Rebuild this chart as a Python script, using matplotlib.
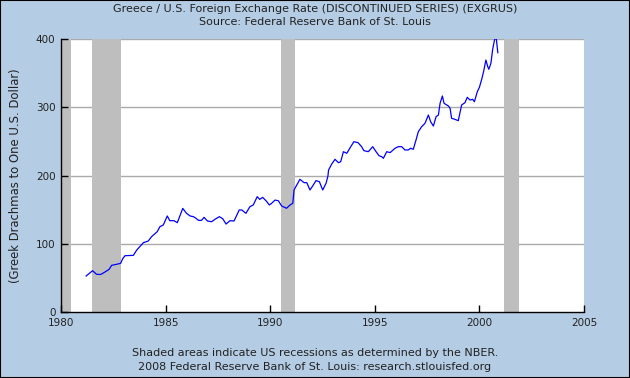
import matplotlib
matplotlib.use("Agg")
import matplotlib.pyplot as plt
from matplotlib.patches import Rectangle

# Greek drachmas per US dollar (decimal year, value)
years = [1981.20, 1981.51, 1981.70, 1981.90, 1982.10, 1982.30, 1982.42, 1982.66,
         1982.85, 1982.95, 1983.06, 1983.46, 1983.62, 1983.94, 1984.17, 1984.33,
         1984.60, 1984.73, 1984.89, 1985.08, 1985.20, 1985.40, 1985.56, 1985.70,
         1985.82, 1986.00, 1986.17, 1986.33, 1986.45, 1986.57, 1986.72, 1986.84,
         1987.00, 1987.20, 1987.36, 1987.57, 1987.73, 1987.89, 1988.08, 1988.27,
         1988.52, 1988.64, 1988.84, 1989.03, 1989.19, 1989.38, 1989.50, 1989.64,
         1989.80, 1989.96, 1990.07, 1990.23, 1990.39, 1990.55, 1990.78, 1990.95,
         1991.08, 1991.14, 1991.27, 1991.42, 1991.62, 1991.75, 1991.90, 1992.03,
         1992.19, 1992.35, 1992.51, 1992.67, 1992.76, 1992.79, 1992.94, 1993.10,
         1993.26, 1993.37, 1993.50, 1993.66, 1993.85, 1994.00, 1994.20, 1994.37,
         1994.48, 1994.69, 1994.90, 1995.06, 1995.20, 1995.33, 1995.41, 1995.57,
         1995.73, 1995.97, 1996.12, 1996.29, 1996.44, 1996.60, 1996.71, 1996.84,
         1996.97, 1997.08, 1997.24, 1997.40, 1997.56, 1997.67, 1997.80, 1997.93,
         1998.04, 1998.12, 1998.23, 1998.31, 1998.52, 1998.60, 1998.67, 1998.83,
         1998.99, 1999.15, 1999.31, 1999.42, 1999.55, 1999.68, 1999.76, 1999.90,
         2000.00, 2000.11, 2000.20, 2000.31, 2000.40, 2000.45, 2000.55, 2000.63,
         2000.72, 2000.80, 2000.88]
rates = [52.7, 60.5, 55.2, 55.0, 58.6, 62.5, 68.4, 69.9,
         71.3, 78.1, 82.5, 83.0, 90.8, 101.6, 104.0, 110.4,
         117.7, 125.0, 127.5, 140.7, 133.8, 133.8, 130.9, 142.0,
         151.8, 144.6, 140.7, 139.7, 137.3, 134.3, 134.3, 138.7,
         133.3, 132.3, 135.8, 139.7, 136.7, 128.9, 133.8, 133.3,
         149.5, 149.5, 144.6, 154.3, 156.8, 169.0, 165.0, 168.0,
         163.0, 156.8, 159.3, 164.0, 163.0, 155.3, 152.0, 156.8,
         159.2, 178.8, 186.0, 194.4, 189.5, 189.5, 178.8, 184.6,
         192.5, 191.0, 178.8, 188.6, 199.3, 208.0, 216.8, 223.7,
         218.8, 220.2, 234.9, 232.5, 242.2, 249.5, 248.1, 242.2,
         236.4, 234.9, 242.2, 234.9, 229.0, 227.6, 225.2, 234.9,
         233.5, 239.9, 242.2, 242.2, 237.4, 237.4, 239.9, 238.4,
         252.0, 264.2, 271.5, 276.5, 288.6, 278.8, 272.5, 286.2,
         288.6, 305.8, 316.5, 305.8, 301.8, 298.4, 283.8, 282.3,
         280.3, 303.3, 306.7, 314.6, 310.6, 311.6, 308.1, 322.8,
         329.2, 341.0, 352.1, 369.2, 359.4, 355.6, 364.4, 383.9,
         398.5, 403.0, 380.0]

# NBER recessions (start, end) in decimal years
rec_start = [1980.00, 1981.50, 1990.50, 2001.17]
rec_end = [1980.50, 1982.87, 1991.17, 2001.87]

xticks = [1980, 1985, 1990, 1995, 2000, 2005]
yticks = [0, 100, 200, 300, 400]

BG = '#B4CCE4'
TXT = '#222222'

fig = plt.figure(figsize=(6.3, 3.78), dpi=100, facecolor=BG)
ax = fig.add_axes([61/630, 1-312/378, (584-61)/630, (312-39)/378])
ax.set_facecolor('white')

for s, e in zip(rec_start, rec_end):
    ax.axvspan(s, e, color='#BEBEBE', lw=0, zorder=1)

for v in yticks[1:]:
    ax.axhline(v, color='#AAAAAA', lw=1, zorder=0.5)

ax.plot(years, rates, color='#0000FF', lw=0.9, zorder=3, clip_on=True)

ax.set_xlim(1980, 2005)
ax.set_ylim(0, 400)
ax.set_xticks(xticks)
ax.set_yticks(yticks)
ax.tick_params(direction='in', length=5, width=1, colors='black',
               labelcolor=TXT, labelsize=7.5, pad=4)
for side in ['top', 'right']:
    ax.spines[side].set_visible(False)
for side in ['left', 'bottom']:
    ax.spines[side].set_color('black')
    ax.spines[side].set_linewidth(1)

ax.set_ylabel('(Greek Drachmas to One U.S. Dollar)', fontsize=8.4, color=TXT, labelpad=10)

fig.text(0.5, 1-9/378, 'Greece / U.S. Foreign Exchange Rate (DISCONTINUED SERIES) (EXGRUS)',
         ha='center', va='center', fontsize=8, color=TXT)
fig.text(0.5, 1-22/378, 'Source: Federal Reserve Bank of St. Louis',
         ha='center', va='center', fontsize=8, color=TXT)
fig.text(0.5, 1-353/378, 'Shaded areas indicate US recessions as determined by the NBER.',
         ha='center', va='center', fontsize=8, color=TXT)
fig.text(0.5, 1-367/378, '2008 Federal Reserve Bank of St. Louis: research.stlouisfed.org',
         ha='center', va='center', fontsize=8, color=TXT)

# thin black frame around the figure
fig.patches.append(Rectangle((0, 0), 1, 1, transform=fig.transFigure,
                             fill=False, edgecolor='black', lw=1.5))

fig.savefig('out.png', dpi=100, facecolor=BG)
